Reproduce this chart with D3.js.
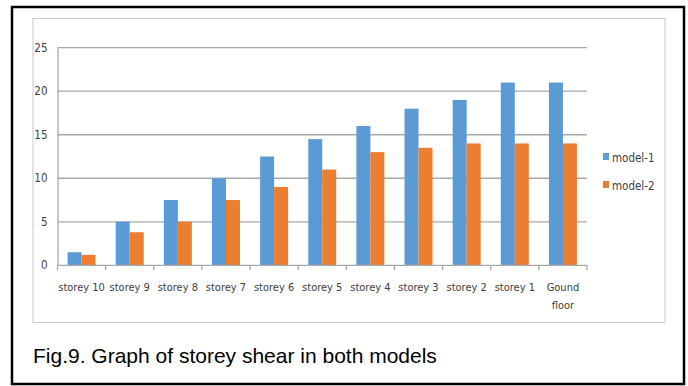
<!DOCTYPE html>
<html>
<head>
<meta charset="utf-8">
<script src="https://cdn.jsdelivr.net/npm/d3@7"></script>
<style>
  html, body { margin: 0; padding: 0; background: #fff; }
  svg { display: block; }
</style>
</head>
<body>
<svg id="chart" width="688" height="386"></svg>
<script>
// Storey shear per floor for the two building models
const categories = ["storey 10", "storey 9", "storey 8", "storey 7", "storey 6", "storey 5",
                    "storey 4", "storey 3", "storey 2", "storey 1", "Gound floor"];
const model1 = [1.5, 5, 7.5, 10, 12.5, 14.5, 16, 18, 19, 21, 21];
const model2 = [1.2, 3.8, 5, 7.5, 9, 11, 13, 13.5, 14, 14, 14];
const seriesNames = ["model-1", "model-2"];
const seriesColors = ["#5B9BD5", "#ED7D31"];
const yTicks = [0, 5, 10, 15, 20, 25];
const caption = "Fig.9. Graph of storey shear in both models";

const svg = d3.select("#chart");
const labelFont = "'Liberation Sans Narrow', 'Arial Narrow', 'DejaVu Sans Condensed', sans-serif";

// outer frame
svg.append("rect").attr("x", 12).attr("y", 7).attr("width", 672).attr("height", 377)
  .attr("fill", "none").attr("stroke", "#000").attr("stroke-width", 2.5);

// chart area frame
svg.append("rect").attr("x", 33).attr("y", 18.5).attr("width", 632).attr("height", 304)
  .attr("fill", "none").attr("stroke", "#c8c8c8").attr("stroke-width", 1);

const plot = { left: 57.5, right: 587, top: 47.7, bottom: 265.3 };

const x = d3.scaleBand().domain(categories).range([plot.left, plot.right]).paddingInner(0).paddingOuter(0);
const inner = d3.scaleBand().domain(seriesNames).range([0, x.bandwidth()]).paddingInner(0).paddingOuter(0.72);
const y = d3.scaleLinear().domain([0, 25]).range([plot.bottom, plot.top]);

// horizontal gridlines
svg.append("g").selectAll("line").data(yTicks.filter(d => d > 0)).join("line")
  .attr("x1", plot.left).attr("x2", plot.right)
  .attr("y1", d => y(d)).attr("y2", d => y(d))
  .attr("stroke", "#a9a9a9").attr("stroke-width", 1.3);

// y axis
const yAxis = svg.append("g").attr("transform", `translate(${plot.left},0)`)
  .call(d3.axisLeft(y).tickValues(yTicks).tickSize(0).tickPadding(10));
yAxis.select(".domain").attr("stroke", "#a9a9a9").attr("stroke-width", 1.3);
yAxis.selectAll("text").attr("font-family", labelFont).attr("font-size", 11.5).attr("fill", "#404040");

// bars
const seriesValues = [model1, model2];
const groups = svg.append("g");
seriesNames.forEach((name, si) => {
  groups.append("g").selectAll("rect").data(categories).join("rect")
    .attr("x", c => x(c) + inner(name))
    .attr("width", inner.bandwidth())
    .attr("y", (c, i) => y(seriesValues[si][i]))
    .attr("height", (c, i) => y(0) - y(seriesValues[si][i]))
    .attr("fill", seriesColors[si]);
});

// x axis with ticks at category boundaries
const xAxisG = svg.append("g").attr("transform", `translate(0,${plot.bottom})`);
xAxisG.append("line").attr("x1", plot.left).attr("x2", plot.right)
  .attr("stroke", "#a9a9a9").attr("stroke-width", 1.3);
const boundaries = categories.map(c => x(c)).concat([plot.right]);
xAxisG.selectAll("line.tick").data(boundaries).join("line").attr("class", "tick")
  .attr("x1", d => d).attr("x2", d => d).attr("y1", 0).attr("y2", 5)
  .attr("stroke", "#a9a9a9").attr("stroke-width", 1.3);

const xLabels = xAxisG.selectAll("text").data(categories).join("text")
  .attr("x", c => x(c) + x.bandwidth() / 2)
  .attr("y", 26)
  .attr("text-anchor", "middle")
  .attr("font-family", labelFont).attr("font-size", 11).attr("fill", "#404040");
xLabels.each(function(c) {
  const t = d3.select(this);
  if (c === "Gound floor") {
    t.append("tspan").attr("x", x(c) + x.bandwidth() / 2).attr("dy", 0).text("Gound");
    t.append("tspan").attr("x", x(c) + x.bandwidth() / 2).attr("dy", 18).text("floor");
  } else {
    t.text(c);
  }
});

// legend
const legend = svg.append("g").attr("transform", "translate(603,157)");
seriesNames.forEach((name, i) => {
  const g = legend.append("g").attr("transform", `translate(0,${i * 28})`);
  g.append("rect").attr("x", 0).attr("y", -4).attr("width", 6).attr("height", 7).attr("fill", seriesColors[i]);
  g.append("text").attr("x", 9).attr("y", 4.5)
    .attr("font-family", labelFont).attr("font-size", 11.5).attr("fill", "#404040").text(name);
});

// caption
svg.append("text").attr("x", 33).attr("y", 363)
  .attr("font-family", "'Liberation Sans', Arial, sans-serif").attr("font-size", 21)
  .attr("fill", "#000").text(caption);
</script>
</body>
</html>
